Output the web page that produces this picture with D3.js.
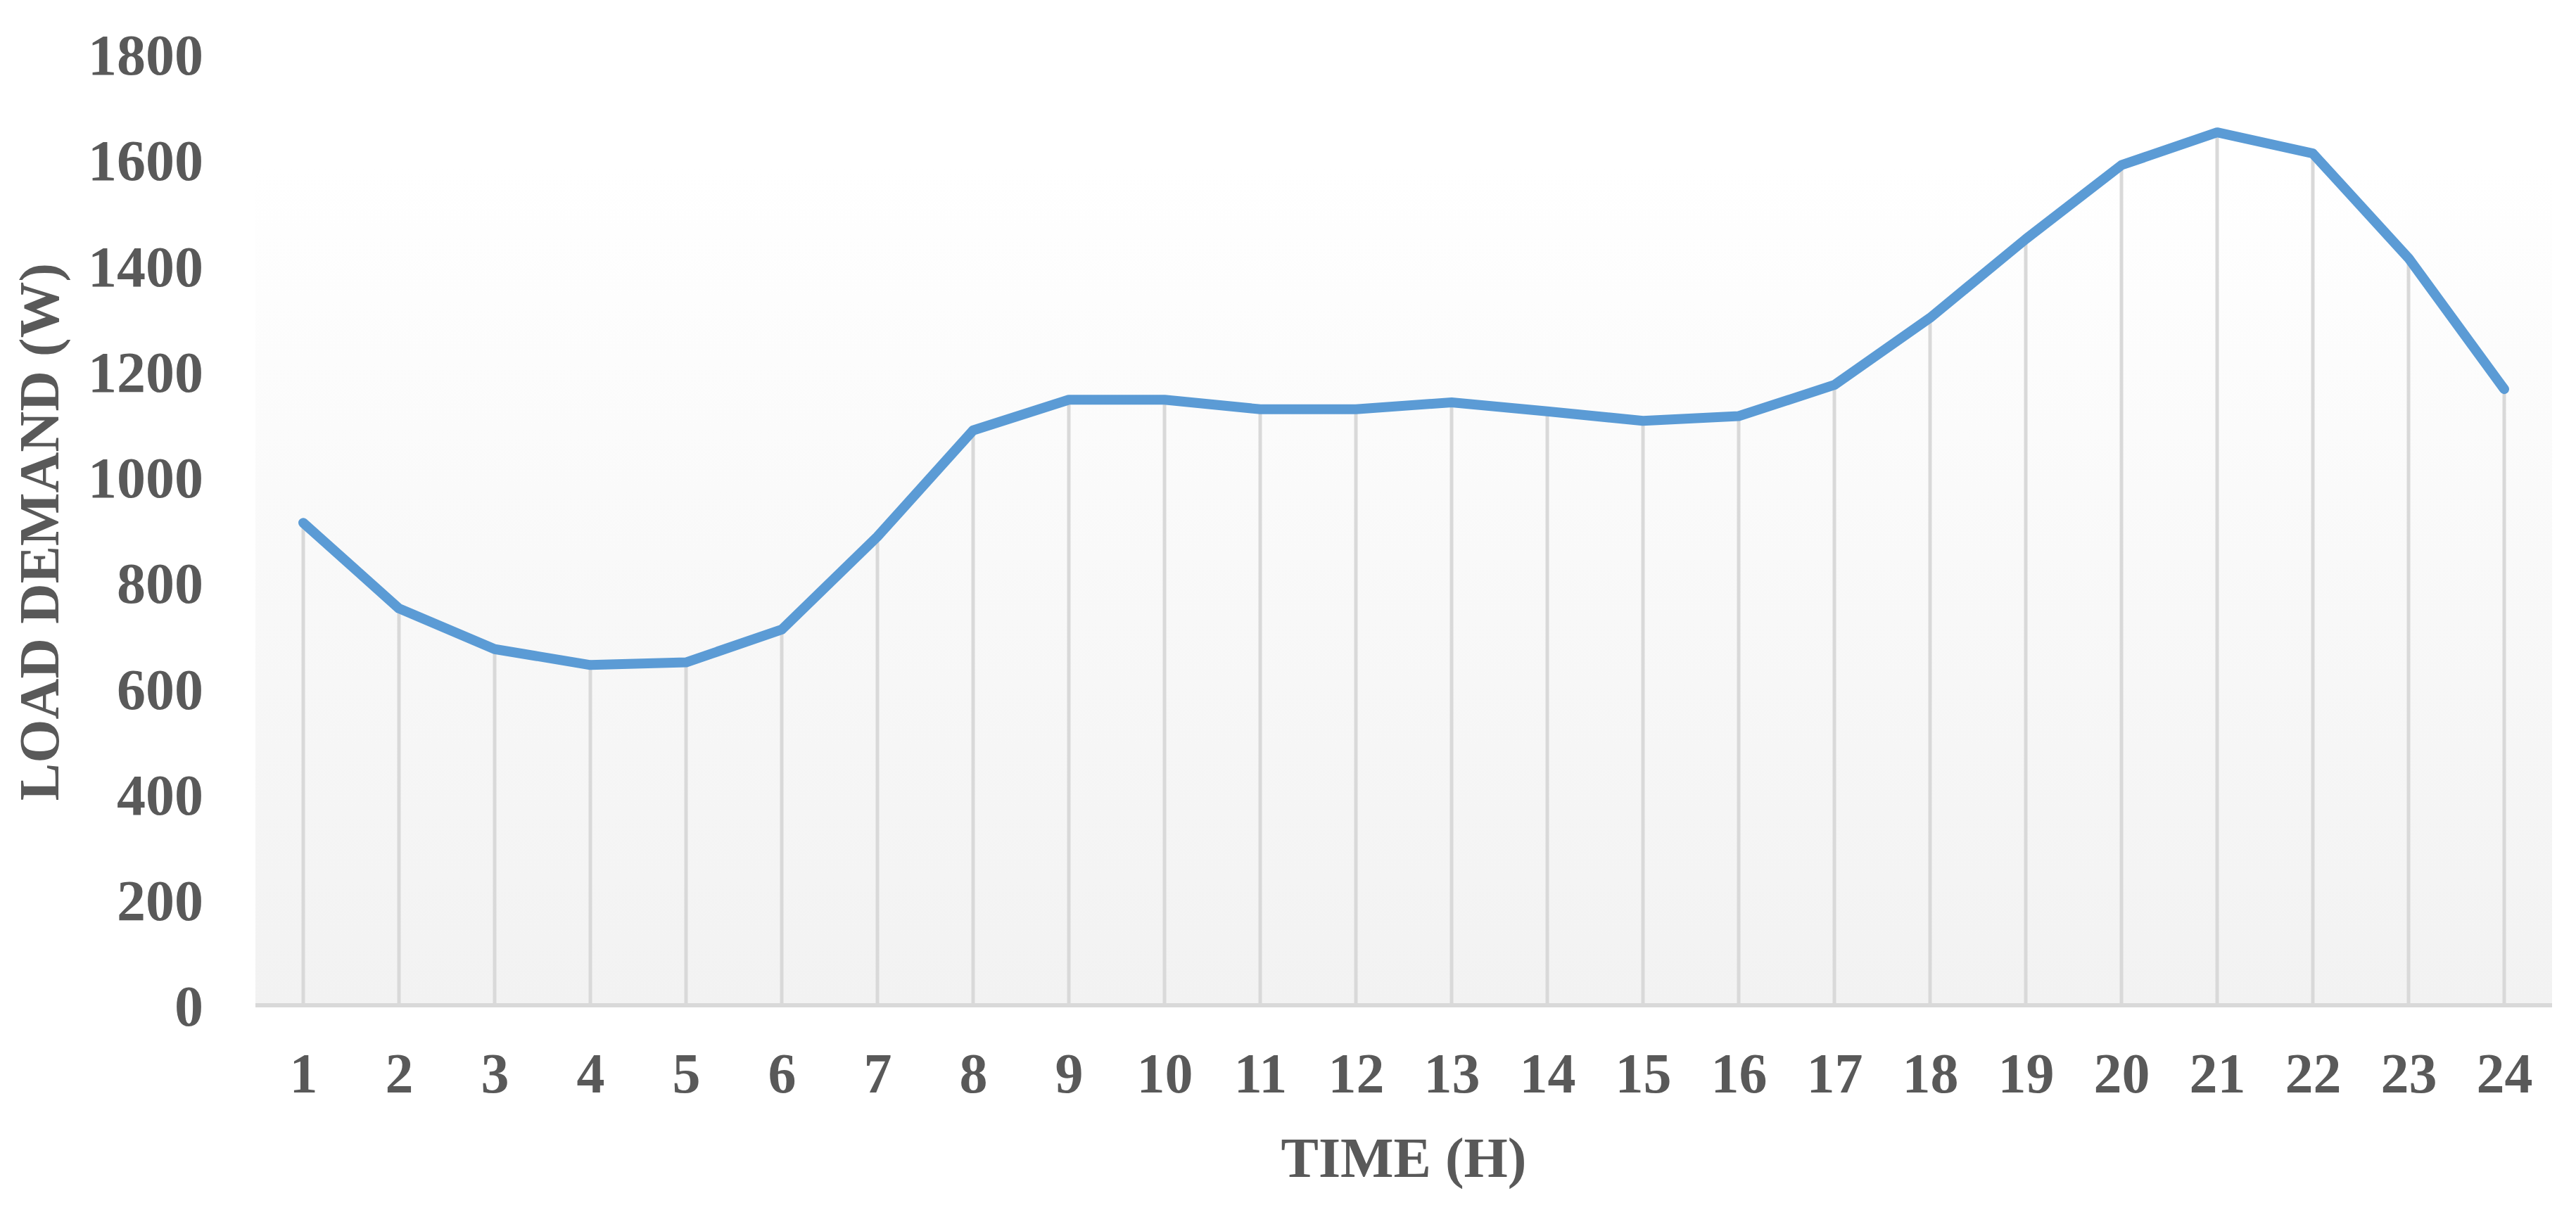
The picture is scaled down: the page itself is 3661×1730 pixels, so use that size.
<!DOCTYPE html>
<html>
<head>
<meta charset="utf-8">
<script src="https://cdn.jsdelivr.net/npm/d3@7/dist/d3.min.js"></script>
<style>
  body { margin: 0; background: #fff; }
  text { font-family: "Liberation Serif", "Times New Roman", serif; font-weight: bold; fill: #595959; }
</style>
</head>
<body>
<div id="chart"></div>
<script>
// hours of the day and the load
var hours = [1,2,3,4,5,6,7,8,9,10,11,12,13,14,15,16,17,18,19,20,21,22,23,24];
var load = [913,751,674,644,649,711,887,1088,1146,1146,1128,1128,1141,1124,1106,1115,1174,1301,1450,1590,1652,1612,1414,1166];
var yTicks = [0,200,400,600,800,1000,1200,1400,1600,1800];

var W = 3661, H = 1730;
var plotLeft = 363, plotRight = 3627, plotTop = 77, plotBottom = 1429;

var svg = d3.select("#chart").append("svg").attr("width", W).attr("height", H);

var x = d3.scalePoint().domain(hours).range([plotLeft, plotRight]).padding(0.5);
var y = d3.scaleLinear().domain([0, 1800]).range([plotBottom, plotTop]);

// plot area background, white on top fading to light grey
var grad = svg.append("defs").append("linearGradient")
  .attr("id", "bg").attr("x1", 0).attr("y1", 0).attr("x2", 0).attr("y2", 1);
grad.append("stop").attr("offset", "0%").attr("stop-color", "#ffffff");
grad.append("stop").attr("offset", "12%").attr("stop-color", "#ffffff");
grad.append("stop").attr("offset", "100%").attr("stop-color", "#f2f2f2");

svg.append("rect")
  .attr("x", plotLeft).attr("y", plotTop)
  .attr("width", plotRight - plotLeft).attr("height", plotBottom - plotTop)
  .attr("fill", "url(#bg)");

// drop lines from each point down to the axis
svg.selectAll(".drop")
  .data(hours)
  .enter().append("line")
  .attr("class", "drop")
  .attr("x1", function(d) { return x(d); })
  .attr("x2", function(d) { return x(d); })
  .attr("y1", function(d, i) { return y(load[i]); })
  .attr("y2", plotBottom)
  .attr("stroke", "#d9d9d9")
  .attr("stroke-width", 5);

// x axis
var xAxis = svg.append("g")
  .attr("transform", "translate(0," + plotBottom + ")")
  .call(d3.axisBottom(x).tickSize(0).tickPadding(0));
xAxis.select(".domain").remove();
xAxis.selectAll("text")
  .attr("y", 124).attr("dy", null)
  .style("font-size", "80px");
svg.append("line")
  .attr("x1", plotLeft).attr("x2", plotRight)
  .attr("y1", plotBottom).attr("y2", plotBottom)
  .attr("stroke", "#d9d9d9").attr("stroke-width", 6);

// y axis
var yAxis = svg.append("g")
  .attr("transform", "translate(289,0)")
  .call(d3.axisLeft(y).tickValues(yTicks).tickFormat(d3.format("d")).tickSize(0).tickPadding(0));
yAxis.select(".domain").remove();
yAxis.selectAll("text")
  .attr("x", 0).attr("dy", "0.35em")
  .style("font-size", "82px");

// the load line
var line = d3.line()
  .x(function(d, i) { return x(hours[i]); })
  .y(function(d) { return y(d); });

svg.append("path")
  .datum(load)
  .attr("d", line)
  .attr("fill", "none")
  .attr("stroke", "#5b9bd5")
  .attr("stroke-width", 14)
  .attr("stroke-linejoin", "round")
  .attr("stroke-linecap", "round");

// axis titles
svg.append("text")
  .attr("x", (plotLeft + plotRight) / 2).attr("y", 1673)
  .attr("text-anchor", "middle")
  .style("font-size", "80px")
  .text("TIME (H)");

svg.append("text")
  .attr("transform", "translate(83,756) rotate(-90)")
  .attr("text-anchor", "middle")
  .style("font-size", "80px")
  .text("LOAD DEMAND (W)");
</script>
</body>
</html>
